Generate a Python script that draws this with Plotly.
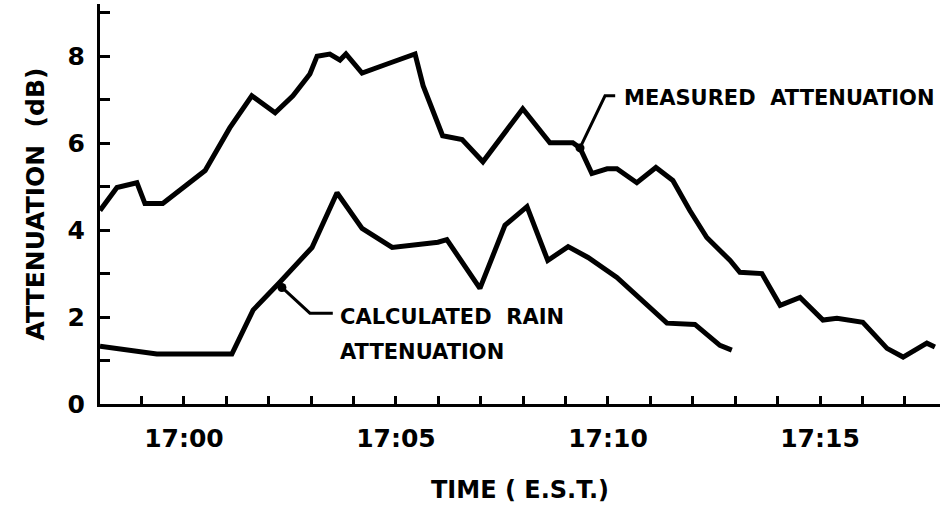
import plotly.graph_objects as go

# Time in minutes after 17:00 (E.S.T.), attenuation in dB
measured_t = [-1.98, -1.58, -1.11, -0.92, -0.50, 0.50, 1.08, 1.60, 2.15, 2.57, 2.97, 3.14,
              3.44, 3.68, 3.82, 4.20, 4.79, 5.45, 5.64, 6.10, 6.56, 7.05, 7.99, 8.63,
              9.17, 9.34, 9.62, 9.98, 10.21, 10.68, 11.13, 11.53, 11.93, 12.33, 12.88,
              13.11, 13.63, 14.06, 14.53, 15.07, 15.40, 16.01, 16.58, 16.96, 17.52, 17.71]
measured_db = [4.45, 4.98, 5.09, 4.61, 4.61, 5.37, 6.35, 7.09, 6.70, 7.09, 7.59, 8.00,
               8.05, 7.91, 8.05, 7.61, 7.82, 8.05, 7.32, 6.17, 6.08, 5.57, 6.79, 6.01,
               6.01, 5.89, 5.30, 5.41, 5.41, 5.09, 5.44, 5.14, 4.45, 3.83, 3.30,
               3.03, 3.00, 2.27, 2.45, 1.93, 1.97, 1.88, 1.28, 1.08, 1.40, 1.31]

calc_t = [-1.98, -0.64, 1.13, 1.63, 2.26, 3.02, 3.61, 4.20, 4.91, 5.99, 6.20, 6.98,
          7.57, 8.09, 8.58, 9.06, 9.53, 10.21, 11.39, 12.05, 12.64, 12.92]
calc_db = [1.33, 1.15, 1.15, 2.16, 2.80, 3.60, 4.86, 4.04, 3.60, 3.72, 3.78, 2.66,
           4.11, 4.54, 3.30, 3.62, 3.37, 2.91, 1.86, 1.83, 1.35, 1.24]

x_tickvals = [0, 5, 10, 15]
x_ticktext = ["17:00", "17:05", "17:10", "17:15"]
y_tickvals = [0, 2, 4, 6, 8]
y_ticktext = ["0", "2", "4", "6", "8"]

FONT = "DejaVu Sans"
LW = 5

fig = go.Figure()
fig.add_trace(go.Scatter(x=measured_t, y=measured_db, mode="lines",
                         line=dict(color="black", width=LW), name="Measured attenuation",
                         hoverinfo="x+y"))
fig.add_trace(go.Scatter(x=calc_t, y=calc_db, mode="lines",
                         line=dict(color="black", width=LW), name="Calculated rain attenuation",
                         hoverinfo="x+y"))

# leader lines with dots
fig.add_shape(type="path", path="M 9.34 5.89 L 9.93 7.09 L 10.17 7.09",
              line=dict(color="black", width=3), xref="x", yref="y")
fig.add_shape(type="path", path="M 2.31 2.68 L 2.97 2.09 L 3.51 2.09",
              line=dict(color="black", width=3), xref="x", yref="y")
fig.add_trace(go.Scatter(x=[9.34, 2.31], y=[5.89, 2.68], mode="markers",
                         marker=dict(color="black", size=9), hoverinfo="skip"))

afont = dict(family=FONT, size=21, color="black", weight="bold")
fig.add_annotation(x=10.33, y=7.04, text="MEASURED  ATTENUATION", showarrow=False,
                   xanchor="left", yanchor="middle", font=afont)
fig.add_annotation(x=3.63, y=2.0, text="CALCULATED  RAIN", showarrow=False,
                   xanchor="left", yanchor="middle", font=afont)
fig.add_annotation(x=3.63, y=1.19, text="ATTENUATION", showarrow=False,
                   xanchor="left", yanchor="middle", font=afont)

tickfont = dict(family=FONT, size=25, color="black", weight="bold")

fig.update_layout(
    width=940, height=508,
    margin=dict(l=100, r=0, t=4, b=104),
    plot_bgcolor="white", paper_bgcolor="white",
    showlegend=False,
    font=dict(family=FONT, color="black"),
    xaxis=dict(range=[-1.98, 17.83], tickvals=x_tickvals, ticktext=x_ticktext,
               ticks="inside", ticklen=8, tickwidth=2.5, tickcolor="black",
               ticklabelstandoff=10,
               minor=dict(dtick=1, tick0=0, ticks="inside", ticklen=8, tickwidth=2.5,
                          tickcolor="black", showgrid=False),
               showline=True, linecolor="black", linewidth=3, showgrid=False, zeroline=False,
               tickfont=tickfont,
               title=dict(text="TIME ( E.S.T.)", standoff=30,
                          font=dict(family=FONT, size=24, color="black", weight="bold"))),
    yaxis=dict(range=[0, 9.2], tickvals=y_tickvals, ticktext=y_ticktext,
               ticks="inside", ticklen=10, tickwidth=2.5, tickcolor="black",
               ticklabelstandoff=7,
               minor=dict(dtick=1, tick0=0, ticks="inside", ticklen=10, tickwidth=2.5,
                          tickcolor="black", showgrid=False),
               showline=True, linecolor="black", linewidth=3, showgrid=False, zeroline=False,
               tickfont=tickfont,
               title=dict(text="ATTENUATION  (dB)", standoff=16,
                          font=dict(family=FONT, size=25, color="black", weight="bold"))),
)

fig.write_html("out.html")
